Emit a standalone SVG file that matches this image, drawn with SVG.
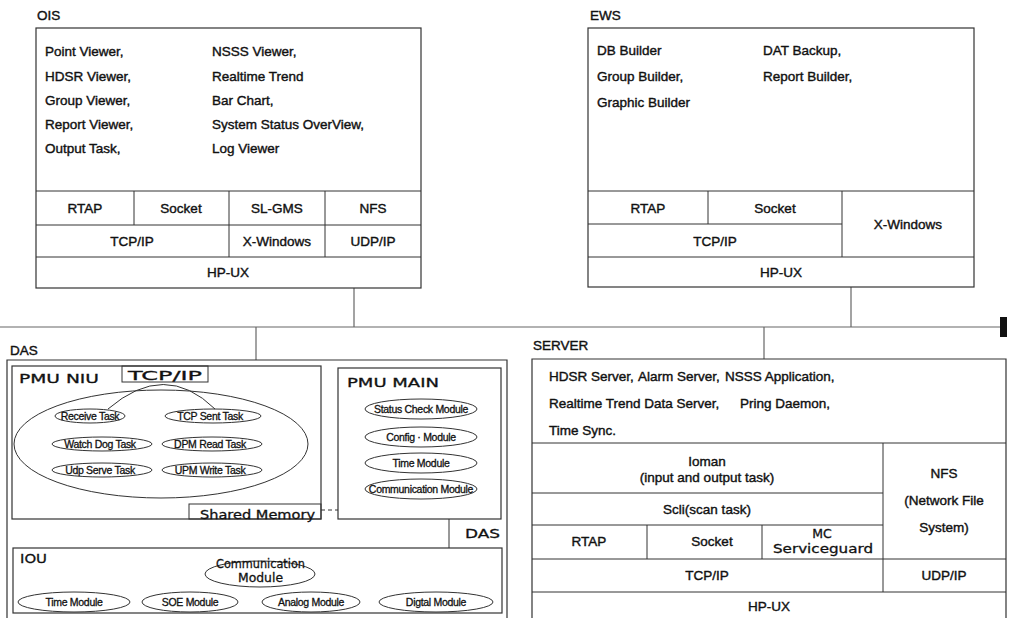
<svg xmlns="http://www.w3.org/2000/svg" width="1009" height="618" viewBox="0 0 1009 618">
<style>
.t{font-family:"Liberation Sans",Arial,sans-serif;font-size:13.5px;fill:#111;stroke:#111;stroke-width:0.4px}
.m{text-anchor:middle}
.s{font-family:"Liberation Sans",Arial,sans-serif;font-size:10.5px;fill:#111;stroke:#111;stroke-width:0.3px;text-anchor:middle;letter-spacing:-0.3px}
.w{font-family:"DejaVu Sans","Liberation Sans",sans-serif;font-size:12.5px;fill:#111;stroke:#111;stroke-width:0.3px}
.box{fill:none;stroke:#333;stroke-width:1.2}
.ln{fill:none;stroke:#333;stroke-width:1}
.el{fill:none;stroke:#333;stroke-width:1}
.con{fill:none;stroke:#666;stroke-width:1.2}
</style>
<rect width="1009" height="618" fill="#fff"/>

<g id="connectors">
<line class="con" x1="354" y1="288" x2="354" y2="327"/>
<line class="con" x1="851" y1="287" x2="851" y2="327"/>
<line class="con" x1="0" y1="327" x2="1000" y2="327"/>
<line class="con" x1="256" y1="327" x2="256" y2="360"/>
<line class="con" x1="764" y1="327" x2="764" y2="359"/>
<rect x="1000" y="317" width="7" height="20" fill="#111"/>
<line class="ln" x1="449" y1="519" x2="449" y2="548"/>
<line class="ln" x1="321" y1="510" x2="338" y2="510" stroke-dasharray="4,3"/>
<path class="ln" d="M108,409 Q165,360 215,409"/>
</g>

<g id="ois">
<text class="t" x="37" y="20">OIS</text>
<rect class="box" x="36" y="28" width="385" height="260"/>
<line class="ln" x1="36" y1="191" x2="421" y2="191"/>
<line class="ln" x1="36" y1="225" x2="421" y2="225"/>
<line class="ln" x1="36" y1="257" x2="421" y2="257"/>
<line class="ln" x1="134" y1="191" x2="134" y2="225"/>
<line class="ln" x1="229" y1="191" x2="229" y2="257"/>
<line class="ln" x1="325" y1="191" x2="325" y2="257"/>
<text class="t" x="45" y="56">Point Viewer,</text>
<text class="t" x="45" y="81">HDSR Viewer,</text>
<text class="t" x="45" y="105">Group Viewer,</text>
<text class="t" x="45" y="129">Report Viewer,</text>
<text class="t" x="45" y="153">Output Task,</text>
<text class="t" x="212" y="56">NSSS Viewer,</text>
<text class="t" x="212" y="81">Realtime Trend</text>
<text class="t" x="212" y="105">Bar Chart,</text>
<text class="t" x="212" y="129">System Status OverView,</text>
<text class="t" x="212" y="153">Log Viewer</text>
<text class="t m" x="85" y="213">RTAP</text>
<text class="t m" x="181" y="213">Socket</text>
<text class="t m" x="277" y="213">SL-GMS</text>
<text class="t m" x="373" y="213">NFS</text>
<text class="t m" x="132" y="246">TCP/IP</text>
<text class="t m" x="277" y="246">X-Windows</text>
<text class="t m" x="373" y="246">UDP/IP</text>
<text class="t m" x="228" y="277">HP-UX</text>
</g>

<g id="ews">
<text class="t" x="590" y="20">EWS</text>
<rect class="box" x="588" y="28" width="386" height="259"/>
<line class="ln" x1="588" y1="191" x2="974" y2="191"/>
<line class="ln" x1="588" y1="224" x2="842" y2="224"/>
<line class="ln" x1="588" y1="257" x2="974" y2="257"/>
<line class="ln" x1="708" y1="191" x2="708" y2="224"/>
<line class="ln" x1="842" y1="191" x2="842" y2="257"/>
<text class="t" x="597" y="55">DB Builder</text>
<text class="t" x="597" y="81">Group Builder,</text>
<text class="t" x="597" y="107">Graphic Builder</text>
<text class="t" x="763" y="55">DAT Backup,</text>
<text class="t" x="763" y="81">Report Builder,</text>
<text class="t m" x="648" y="213">RTAP</text>
<text class="t m" x="775" y="213">Socket</text>
<text class="t m" x="715" y="246">TCP/IP</text>
<text class="t m" x="908" y="229">X-Windows</text>
<text class="t m" x="781" y="277">HP-UX</text>
</g>

<g id="das">
<text class="t" x="10" y="355">DAS</text>
<path class="box" d="M7,618 V360 H507 V618"/>
<text class="w" x="465" y="538" textLength="35" lengthAdjust="spacingAndGlyphs">DAS</text>
</g>

<g id="pmu-niu">
<rect class="box" x="12" y="366" width="309" height="153"/>
<text class="w" x="19" y="383" textLength="80" lengthAdjust="spacingAndGlyphs">PMU NIU</text>
<rect class="ln" x="122" y="366" width="86" height="16"/>
<text class="w" x="128" y="380" font-size="12" textLength="74" lengthAdjust="spacingAndGlyphs">TCP/IP</text>
<ellipse class="el" cx="161" cy="444" rx="147" ry="54"/>
<ellipse class="el" cx="90" cy="416" rx="35" ry="7"/>
<text class="s" x="90" y="420">Receive Task</text>
<ellipse class="el" cx="213" cy="416" rx="48" ry="7"/>
<text class="s" x="210" y="420">TCP Sent Task</text>
<ellipse class="el" cx="102" cy="444" rx="50" ry="7"/>
<text class="s" x="100" y="448">Watch Dog Task</text>
<ellipse class="el" cx="212" cy="444" rx="50" ry="7"/>
<text class="s" x="210" y="448">DPM Read Task</text>
<ellipse class="el" cx="102" cy="470" rx="50" ry="7"/>
<text class="s" x="100" y="474">Udp Serve Task</text>
<ellipse class="el" cx="212" cy="470" rx="50" ry="7"/>
<text class="s" x="210" y="474">UPM Write Task</text>
<rect class="ln" x="189" y="504" width="132" height="15"/>
<text class="w" x="200" y="519" font-size="13" textLength="115" lengthAdjust="spacingAndGlyphs">Shared Memory</text>
</g>

<g id="pmu-main">
<rect class="box" x="338" y="368" width="163" height="151"/>
<text class="w" x="347" y="387" textLength="92" lengthAdjust="spacingAndGlyphs">PMU MAIN</text>
<ellipse class="el" cx="421" cy="409" rx="56" ry="10"/>
<text class="s" x="421" y="413">Status Check Module</text>
<ellipse class="el" cx="421" cy="437" rx="56" ry="10"/>
<text class="s" x="421" y="441">Config · Module</text>
<ellipse class="el" cx="421" cy="463" rx="56" ry="10"/>
<text class="s" x="421" y="467">Time Module</text>
<ellipse class="el" cx="421" cy="489" rx="56" ry="10"/>
<text class="s" x="421" y="493">Communication Module</text>
</g>

<g id="iou">
<rect class="box" x="13" y="548" width="489" height="65"/>
<text class="w" x="20" y="563" textLength="27" lengthAdjust="spacingAndGlyphs">IOU</text>
<ellipse class="el" cx="260" cy="574" rx="55" ry="13"/>
<text class="w" x="216" y="568" font-size="8.5" textLength="89" lengthAdjust="spacingAndGlyphs">Communication</text>
<text class="w" x="238" y="582" font-size="8.5" textLength="45" lengthAdjust="spacingAndGlyphs">Module</text>
<ellipse class="el" cx="74" cy="602" rx="56" ry="10"/>
<text class="s" x="74" y="606">Time Module</text>
<ellipse class="el" cx="190" cy="602" rx="48" ry="10"/>
<text class="s" x="190" y="606">SOE Module</text>
<ellipse class="el" cx="311" cy="602" rx="49" ry="10"/>
<text class="s" x="311" y="606">Analog Module</text>
<ellipse class="el" cx="436" cy="602" rx="57" ry="10"/>
<text class="s" x="436" y="606">Digtal Module</text>
</g>

<g id="server">
<text class="t" x="533" y="350">SERVER</text>
<path class="box" d="M532,618 V359 H1006 V618"/>
<line class="ln" x1="532" y1="443" x2="1006" y2="443"/>
<line class="ln" x1="532" y1="493" x2="883" y2="493"/>
<line class="ln" x1="532" y1="525" x2="883" y2="525"/>
<line class="ln" x1="532" y1="559" x2="1006" y2="559"/>
<line class="ln" x1="532" y1="592" x2="1006" y2="592"/>
<line class="ln" x1="883" y1="443" x2="883" y2="592"/>
<line class="ln" x1="647" y1="525" x2="647" y2="559"/>
<line class="ln" x1="762" y1="525" x2="762" y2="559"/>
<text class="t" x="549" y="381">HDSR Server,</text>
<text class="t" x="638" y="381">Alarm Server,</text>
<text class="t" x="725" y="381">NSSS Application,</text>
<text class="t" x="549" y="408">Realtime Trend Data Server,</text>
<text class="t" x="740" y="408">Pring Daemon,</text>
<text class="t" x="549" y="435">Time Sync.</text>
<text class="t m" x="707" y="466">Ioman</text>
<text class="t m" x="707" y="482">(input and output task)</text>
<text class="t m" x="707" y="514">Scli(scan task)</text>
<text class="t m" x="589" y="546">RTAP</text>
<text class="t m" x="712" y="546">Socket</text>
<text class="w m" x="822" y="538" font-size="10.5">MC</text>
<text class="w" x="773" y="553" font-size="10.5" textLength="100" lengthAdjust="spacingAndGlyphs">Serviceguard</text>
<text class="t m" x="707" y="580">TCP/IP</text>
<text class="t m" x="944" y="478">NFS</text>
<text class="t m" x="944" y="505">(Network File</text>
<text class="t m" x="944" y="532">System)</text>
<text class="t m" x="944" y="580">UDP/IP</text>
<text class="t m" x="769" y="611">HP-UX</text>
</g>
</svg>
